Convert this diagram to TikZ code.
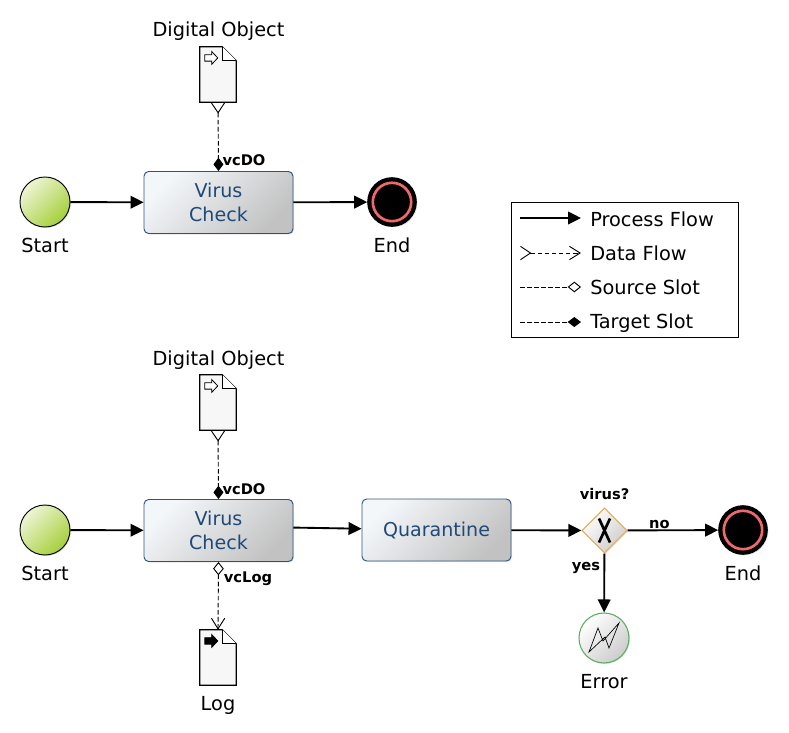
\documentclass[tikz,border=0pt]{standalone}
\usepackage{fontspec}
\setmainfont{DejaVu Sans}
\usetikzlibrary{arrows.meta, shapes.geometric, shadows}
\definecolor{taskblue}{HTML}{1F4A78}
\definecolor{taskedge}{HTML}{2C5480}
\definecolor{tasklight}{HTML}{F4F7FA}
\definecolor{gateorange}{HTML}{E2AA5A}
\definecolor{errorgreen}{HTML}{58AE5E}
\definecolor{endred}{HTML}{F0686C}
\definecolor{startlight}{HTML}{EEF5D5}
\definecolor{startdark}{HTML}{A6CF3A}
\tikzset{
    softshadow/.style={drop shadow={opacity=0.22, shadow xshift=0.8pt, shadow yshift=-0.8pt}},
    lab/.style={font=\fontsize{14.5}{16}\selectfont, inner sep=0pt, anchor=base},
    legendlab/.style={lab, anchor=base west},
    slotlab/.style={font=\fontsize{11}{13}\selectfont\bfseries, inner sep=0pt},
    task/.style={rectangle, rounded corners=3.5pt, draw=taskedge, line width=0.7pt, minimum width=111.75pt, minimum height=46.5pt, inner sep=0pt, align=center, text=taskblue, font=\fontsize{14.3}{17.5}\selectfont, left color=tasklight, right color=black!24, shading angle=45, softshadow},
    startev/.style={circle, draw=black, line width=0.7pt, minimum size=37.5pt, inner sep=0pt, left color=startlight, right color=startdark, shading angle=45, softshadow},
    endev/.style={circle, draw=black, fill=black, line width=0.7pt, minimum size=36.5pt, inner sep=0pt, softshadow},
    errorev/.style={circle, draw=errorgreen, line width=0.8pt, minimum size=37.5pt, inner sep=0pt, left color=white, right color=black!20, shading angle=45, softshadow},
    gate/.style={diamond, aspect=1, draw=gateorange, line width=0.8pt, minimum size=34pt, inner sep=0pt, left color=white, right color=black!20, shading angle=45, softshadow},
    procflow/.style={-{Triangle[length=9.75pt, width=9.5pt]}, line width=1.4pt},
    slotline/.style={dash pattern=on 3.5pt off 1.8pt, line width=0.7pt},
    dataflow/.style={slotline, {Straight Barb[reversed, length=7.5pt, width=10pt, line width=0.7pt]}-{Straight Barb[length=8pt, width=10pt, line width=0.7pt]}},
    targetslot/.style={slotline, -{Diamond[length=10pt, width=7.5pt]}},
    sourceslot/.style={slotline, -{Diamond[open, fill=white, length=10pt, width=8pt]}},
    inslot/.style={slotline, {Straight Barb[reversed, length=7.5pt, width=10pt, line width=0.7pt]}-{Diamond[length=10pt, width=7.5pt]}},
    outslot/.style={slotline, {Diamond[open, fill=white, length=10pt, width=8pt]}-{Straight Barb[length=8pt, width=10pt, line width=0.7pt]}},
    docnode/.style={rectangle, minimum width=27pt, minimum height=41.25pt, inner sep=0pt},
}
% file icon: name, position, fill of the small arrow
\newcommand{\docicon}[3]{
    \node[docnode] (#1) at (#2) {};
    \fill[black, opacity=0.2, shift={(0.8pt,-0.8pt)}] (#1.south west) -- (#1.north west) -- ([xshift=-10.5pt]#1.north east) -- ([yshift=-10.5pt]#1.north east) -- (#1.south east) -- cycle;
    \draw[line width=0.9pt, fill=black!3] (#1.south west) -- (#1.north west) -- ([xshift=-10.5pt]#1.north east) -- ([yshift=-10.5pt]#1.north east) -- (#1.south east) -- cycle;
    \draw[line width=0.7pt, fill=white] ([xshift=-10.5pt]#1.north east) -- ([xshift=-10.5pt, yshift=-10.5pt]#1.north east) -- ([yshift=-10.5pt]#1.north east);
    \draw[line width=0.6pt, fill=#3, shift={(#1.north west)}] (3.8pt,-6pt) -- (9pt,-6pt) -- (9pt,-3.6pt) -- (13.5pt,-8.4pt) -- (9pt,-13.2pt) -- (9pt,-10.8pt) -- (3.8pt,-10.8pt) -- cycle;
}
\begin{document}
\begin{tikzpicture}[x=0.75pt, y=-0.75pt]
    \useasboundingbox (0,0) rectangle (789,732);

    % first process
    \node[lab] at (218.5,36) {Digital Object};
    \docicon{docA}{218,74.5}{white}
    \node[startev] (startA) at (45,202) {};
    \node[task] (virusA) at (218.5,202.5) {Virus\\Check};
    \node[endev] (endA) at (392,202) {};
    \draw[endred, line width=2pt] (endA) circle (14.4pt);
    \node[lab] at (45,252) {Start};
    \node[lab] at (392,252) {End};
    \node[slotlab] at (244,160) {vcDO};
    \draw[inslot] (docA.south) -- (virusA.north);
    \draw[procflow] (startA) -- (virusA);
    \draw[procflow] (virusA) -- (endA);

    % legend
    \node[draw, line width=0.7pt, minimum width=170.25pt, minimum height=101.25pt, inner sep=0pt] (legendbox) at (624.5,269.5) {};
    \coordinate (pfA) at (520,218); \coordinate (pfB) at (581,218);
    \coordinate (dfA) at (520,253); \coordinate (dfB) at (581,253);
    \coordinate (ssA) at (520,287); \coordinate (ssB) at (581,287);
    \coordinate (tsA) at (520,322); \coordinate (tsB) at (581,322);
    \draw[procflow] (pfA) -- (pfB);
    \draw[dataflow] (dfA) -- (dfB);
    \draw[sourceslot] (ssA) -- (ssB);
    \draw[targetslot] (tsA) -- (tsB);
    \node[legendlab] at (590,226) {Process Flow};
    \node[legendlab] at (590,260) {Data Flow};
    \node[legendlab] at (590,294) {Source Slot};
    \node[legendlab] at (590,328) {Target Slot};

    % second process
    \node[lab] at (218.5,365) {Digital Object};
    \docicon{docB}{218,402.5}{white}
    \docicon{docC}{218,657.5}{black}
    \node[startev] (startB) at (45,530) {};
    \node[task] (virusB) at (218.5,530.5) {Virus\\Check};
    \node[task] (quarantine) at (436.5,530) {\raisebox{-1.5pt}{Quarantine}};
    \node[gate] (gateB) at (604.5,530.5) {};
    \draw[line width=2pt] (599,518.5) -- (610,542.5) (610,518.5) -- (599,542.5);
    \node[endev] (endB) at (743,530) {};
    \draw[endred, line width=2pt] (endB) circle (14.4pt);
    \node[errorev] (errorB) at (604,638) {};
    \draw[line width=0.5pt, shift={(errorB.center)}] (-15,14) -- (-6,-10) -- (-1,3) -- (15,-15) -- (5,10) -- (1,-1) -- cycle;
    \node[lab] at (45,580) {Start};
    \node[lab] at (743,580) {End};
    \node[lab] at (604,688) {Error};
    \node[lab] at (218,710) {Log};
    \node[slotlab] at (244,489) {vcDO};
    \node[slotlab] at (248,579) {vcLog};
    \node[slotlab] at (604.5,494) {virus?};
    \node[slotlab] at (659.5,524) {no};
    \node[slotlab] at (586,568) {yes};
    \draw[inslot] (docB.south) -- (virusB.north);
    \draw[outslot] (virusB.south) -- (docC.north);
    \draw[procflow] (startB) -- (virusB);
    \draw[procflow] ([yshift=2.2pt]virusB.east) -- (quarantine);
    \draw[procflow] (quarantine) -- (gateB);
    \draw[procflow] (gateB) -- (endB);
    \draw[procflow] (gateB) -- (errorB);
\end{tikzpicture}
\end{document}
